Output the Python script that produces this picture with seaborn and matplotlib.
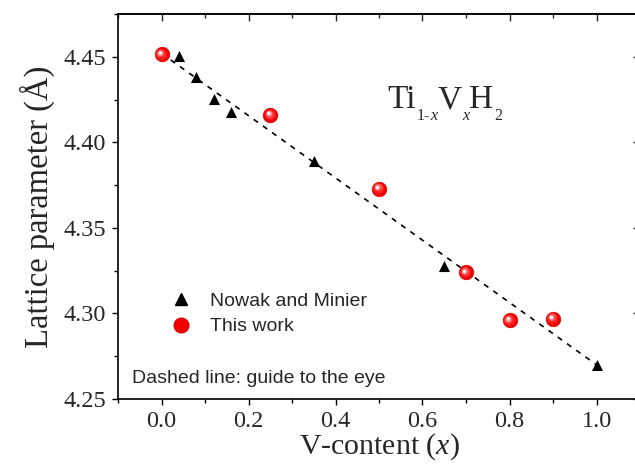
import matplotlib
matplotlib.use("Agg")
import matplotlib.pyplot as plt
import seaborn as sns
import numpy as np
import pandas as pd
from matplotlib.transforms import offset_copy
from matplotlib.lines import Line2D

# ---- data ----
nowak_x = [0.04, 0.08, 0.12, 0.16, 0.35, 0.65, 1.00]
nowak_y = [4.4505, 4.4380, 4.4255, 4.4180, 4.3890, 4.3280, 4.2700]
this_x = [0.00, 0.25, 0.50, 0.70, 0.80, 0.90]
this_y = [4.4515, 4.4160, 4.3730, 4.3240, 4.2960, 4.2970]
guide_x = [0.00, 1.00]
guide_y = [4.4520, 4.2700]
x_ticks = [0.0, 0.2, 0.4, 0.6, 0.8, 1.0]
y_ticks = [4.25, 4.30, 4.35, 4.40, 4.45]

sns.set_style("ticks")
plt.rcParams['font.family'] = ['Liberation Serif', 'DejaVu Serif']
plt.rcParams['mathtext.fontset'] = 'custom'
plt.rcParams['mathtext.rm'] = 'Liberation Serif'
plt.rcParams['mathtext.it'] = 'Liberation Serif:italic'

fig = plt.figure(figsize=(6.35, 4.66), dpi=100)
W, H = 635, 466
ax = fig.add_axes([118 / W, 1 - 399 / H, (640 - 118) / W, (399 - 14) / H])

df_n = pd.DataFrame({"x": nowak_x, "y": nowak_y})
df_t = pd.DataFrame({"x": this_x, "y": this_y})
df_g = pd.DataFrame({"x": guide_x, "y": guide_y})

ax.plot(df_g.x, df_g.y, color='black', lw=1.2, dashes=(3.2, 3.6), zorder=2)
sns.scatterplot(data=df_n, x="x", y="y", marker='^', s=64, color='black',
                edgecolor='black', linewidth=0, ax=ax, zorder=3)

# shaded red balls: base + highlight layers
sns.scatterplot(data=df_t, x="x", y="y", marker='o', s=110, color='#f00000',
                edgecolor='#d80000', linewidth=0.5, ax=ax, zorder=4)
layers = [(-0.45, 0.45, 64, '#ff1c1c'), (-0.85, 0.85, 32, '#ff5050'),
          (-1.15, 1.15, 13, '#ffa0a0'), (-1.35, 1.35, 5, '#fff4f4')]
for dx, dy, s, c in layers:
    tr = offset_copy(ax.transData, fig=fig, x=dx, y=dy, units='points')
    ax.scatter(df_t.x, df_t.y, s=s, color=c, linewidth=0, transform=tr, zorder=5)

ax.set_xlim(-0.1, 1.1)
ax.set_ylim(4.25, 4.475)
ax.set_xticks(x_ticks)
ax.set_xticklabels([f"{v:.1f}" for v in x_ticks])
ax.set_yticks(y_ticks)
ax.set_yticklabels([f"{v:.2f}" for v in y_ticks])
ax.set_xticks(np.arange(-0.1, 1.11, 0.1), minor=True)
ax.set_yticks(np.arange(4.25, 4.476, 0.025), minor=True)

ax.tick_params(axis='both', which='major', labelsize=17.5, length=4.5, width=1.0, color='black')
ax.tick_params(axis='both', which='minor', length=3, width=1.0, color='black')
ax.tick_params(axis='x', which='both', direction='out', top=False, pad=4)
ax.tick_params(axis='y', which='both', direction='out', right=False, pad=4)
# mirrored inward ticks on top / right
secx = ax.secondary_xaxis('top')
secx.set_xticks(x_ticks)
secx.set_xticks(np.arange(-0.1, 1.11, 0.1), minor=True)
secx.tick_params(which='major', direction='in', length=5, width=1.0, labeltop=False)
secx.tick_params(which='minor', direction='in', length=3, width=1.0)
secy = ax.secondary_yaxis('right')
secy.set_yticks(y_ticks)
secy.set_yticks(np.arange(4.25, 4.476, 0.025), minor=True)
secy.tick_params(which='major', direction='in', length=5, width=1.0, labelright=False)
secy.tick_params(which='minor', direction='in', length=0, width=1.0)

for sp in ax.spines.values():
    sp.set_linewidth(1.2)
    sp.set_color('black')
secx.spines['top'].set_linewidth(1.2)
secy.spines['right'].set_linewidth(1.2)

ax.set_xlabel(r"V-content ($x$)", fontsize=21.5, labelpad=0)
ax.set_ylabel("Lattice parameter (Å)", fontsize=23.5, labelpad=6)

# formula Ti_{1-x}V_xH_2 built from pieces (big / subscript)
fig.canvas.draw()
renderer = fig.canvas.get_renderer()
pieces = [("Ti", 24, 'normal', 0), ("1-", 11.5, 'normal', -11.5), ("x", 11.5, 'italic', -11.5),
          ("V", 24, 'normal', 0), ("x", 11.5, 'italic', -11.5),
          ("H", 24, 'normal', 0), ("2", 11.5, 'normal', -11.5)]
cum = 0.0
for txt, fs, st, dy in pieces:
    tr = offset_copy(ax.transData, fig=fig, x=cum, y=dy, units='dots')
    t = ax.text(0.520, 4.420, txt, fontsize=fs, style=st, ha='left',
                va='baseline', transform=tr)
    cum += t.get_window_extent(renderer).width + 0.3

handles = [Line2D([], [], marker='^', color='black', ls='none', markersize=8.5),
           Line2D([], [], marker='o', color='#f00000', markeredgecolor='#d80000',
                  ls='none', markersize=10.5)]
leg = ax.legend(handles, ["Nowak and Minier", "This work"], loc='upper left',
                bbox_to_anchor=(0.08, 0.297), frameon=False, handletextpad=0.8,
                handlelength=1.4, labelspacing=0.4, borderaxespad=0,
                prop={'family': 'Liberation Sans', 'size': 14})
ax.text(0.027, 0.052, "Dashed line: guide to the eye", transform=ax.transAxes,
        fontsize=14, family='Liberation Sans', ha='left', va='center')

fig.savefig("out.png", dpi=100)
